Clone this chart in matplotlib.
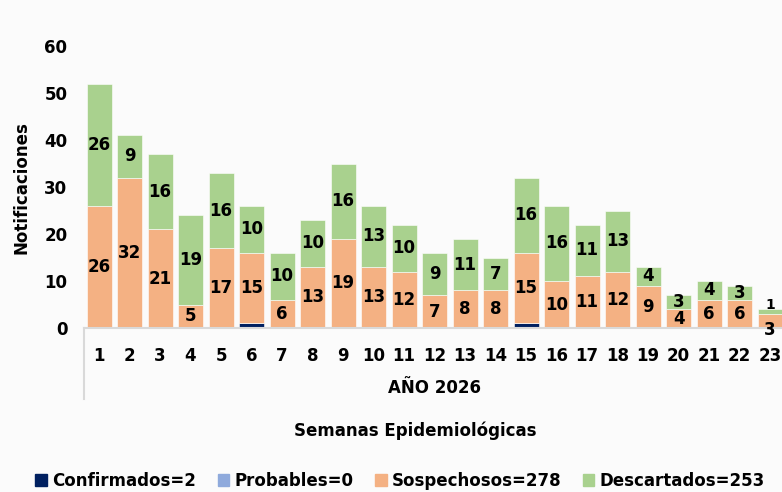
import matplotlib
matplotlib.use("Agg")
import matplotlib.pyplot as plt
import numpy as np
from matplotlib.patches import Patch

weeks = [str(i) for i in range(1, 24)]
confirmados = [0, 0, 0, 0, 0, 1, 0, 0, 0, 0, 0, 0, 0, 0, 1, 0, 0, 0, 0, 0, 0, 0, 0]
probables = [0] * 23
sospechosos = [26, 32, 21, 5, 17, 15, 6, 13, 19, 13, 12, 7, 8, 8, 15, 10, 11, 12, 9, 4, 6, 6, 3]
descartados = [26, 9, 16, 19, 16, 10, 10, 10, 16, 13, 10, 9, 11, 7, 16, 16, 11, 13, 4, 3, 4, 3, 1]

c_conf = "#002060"
c_prob = "#8FAADC"
c_sosp = "#F4B183"
c_desc = "#A9D18E"

plt.rcParams['font.family'] = ['DejaVu Sans']
W, H = 782, 492
fig = plt.figure(figsize=(W / 100, H / 100), dpi=100, facecolor="#fbfbfb")
ax = fig.add_axes([84 / W, (H - 328) / H, (782 - 84) / W, (328 - 46) / H])
ax.set_facecolor("none")

x = np.arange(1, 24)
w = 0.82
conf = np.array(confirmados)
prob = np.array(probables)
sosp = np.array(sospechosos)
desc = np.array(descartados)
ax.bar(x, conf, w, color=c_conf, edgecolor="white", linewidth=0.4, zorder=2)
ax.bar(x, prob, w, bottom=conf, color=c_prob, edgecolor="white", linewidth=0.4, zorder=2)
ax.bar(x, sosp, w, bottom=conf + prob, color=c_sosp, edgecolor="white", linewidth=0.4, zorder=2)
ax.bar(x, desc, w, bottom=conf + prob + sosp, color=c_desc, edgecolor="white", linewidth=0.4, zorder=2)

for i in range(23):
    b = conf[i] + prob[i]
    small = (sosp[i] + desc[i]) < 6
    if sosp[i] > 0:
        ax.text(x[i], b + sosp[i] / 2, str(sosp[i]), ha="center", va="top" if small else "center",
                fontsize=12, fontweight="bold", color="black", zorder=3)
    b2 = b + sosp[i]
    if desc[i] > 0:
        ax.text(x[i], b2 + desc[i] / 2, str(desc[i]), ha="center",
                va="bottom" if small else "center",
                fontsize=12 if not small else 10, fontweight="bold", color="black", zorder=3)

ax.set_xlim(0.508, 23.39)
ax.set_ylim(0, 60)
ax.set_yticks([0, 10, 20, 30, 40, 50, 60])
ax.set_xticks(x)
ax.set_xticklabels(weeks)
ax.tick_params(axis="both", length=0, labelsize=12)
ax.tick_params(axis="x", pad=14)
ax.tick_params(axis="y", pad=12)
for lab in ax.get_xticklabels() + ax.get_yticklabels():
    lab.set_fontweight("bold")
for s in ["top", "right", "left"]:
    ax.spines[s].set_visible(False)
ax.spines["bottom"].set_color("#d9d9d9")
ax.spines["bottom"].set_linewidth(1.5)
ax.plot([0.508, 0.508], [0, -15], color="#d9d9d9", lw=1.5, clip_on=False, zorder=1,
        transform=ax.transData)

fig.text(22 / W, 1 - 188 / H, "Notificaciones", rotation=90, ha="center", va="center",
         fontsize=12, fontweight="bold")
fig.text(435 / W, 1 - 388 / H, "AÑO 2026", ha="center", va="center", fontsize=12, fontweight="bold")
fig.text(415 / W, 1 - 431 / H, "Semanas Epidemiológicas", ha="center", va="center",
         fontsize=12, fontweight="bold")

handles = [Patch(color=c_conf), Patch(color=c_prob), Patch(color=c_sosp), Patch(color=c_desc)]
labels = ["Confirmados=%d" % sum(confirmados), "Probables=%d" % sum(probables),
          "Sospechosos=%d" % sum(sospechosos), "Descartados=%d" % sum(descartados)]
leg = fig.legend(handles, labels, loc="center", bbox_to_anchor=(400 / W, 1 - 481 / H), ncol=4,
                 frameon=False, prop={"weight": "bold", "size": 12}, handlelength=0.7,
                 handleheight=0.7, handletextpad=0.3, columnspacing=1.3)

fig.savefig("out.png", dpi=100, facecolor=fig.get_facecolor())
